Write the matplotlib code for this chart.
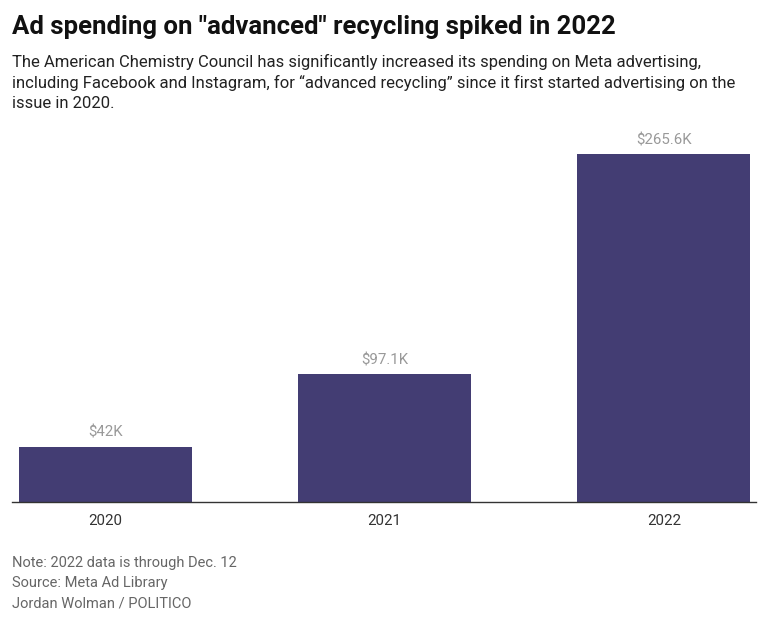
import matplotlib
matplotlib.use("Agg")
import matplotlib.pyplot as plt
from matplotlib import font_manager

years = ["2020", "2021", "2022"]
spending_k = [42.0, 97.1, 265.6]
labels = ["$42K", "$97.1K", "$265.6K"]

title = 'Ad spending on "advanced" recycling spiked in 2022'
subtitle = ("The American Chemistry Council has significantly increased its spending on Meta advertising,\n"
            "including Facebook and Instagram, for \u201cadvanced recycling\u201d since it first started advertising on the\n"
            "issue in 2020.")
notes = ["Note: 2022 data is through Dec. 12", "Source: Meta Ad Library", "Jordan Wolman / POLITICO"]

plt.rcParams["font.family"] = ["Roboto", "DejaVu Sans"]

W, H = 768, 622
fig = plt.figure(figsize=(W / 100, H / 100), dpi=100)
left, right, bottom, top = 12, 756, 501.5, 154
ax = fig.add_axes([left / W, 1 - bottom / H, (right - left) / W, (bottom - top) / H])

x = range(len(years))
ax.bar(x, spending_k, width=0.62, color="#433d73")
ax.set_xlim(-0.335, 2.33)
ax.set_ylim(0, 265.6)
for xi, v, lab in zip(x, spending_k, labels):
    ax.annotate(lab, (xi, v), xytext=(0, 5), textcoords="offset points", ha="center", va="bottom",
                fontsize=10.8, color="#999999")
ax.set_xticks(list(x))
ax.set_xticklabels(years, fontsize=10.8, color="#333333")
ax.tick_params(axis="x", length=0, pad=9)
ax.set_yticks([])
for s in ["top", "right", "left"]:
    ax.spines[s].set_visible(False)
ax.spines["bottom"].set_color("#333333")
ax.spines["bottom"].set_linewidth(1.0)

fig.text(12 / W, 1 - 34 / H, title, fontsize=18.5, fontweight="bold", color="#111111", va="baseline")
fig.text(12 / W, 1 - 54 / H, subtitle, fontsize=12, color="#222222", va="top", linespacing=1.38)
for i, n in enumerate(notes):
    fig.text(12 / W, 1 - (567 + 20 * i) / H, n, fontsize=10.5, color="#666666", va="baseline")

fig.savefig("out.png", dpi=100)
